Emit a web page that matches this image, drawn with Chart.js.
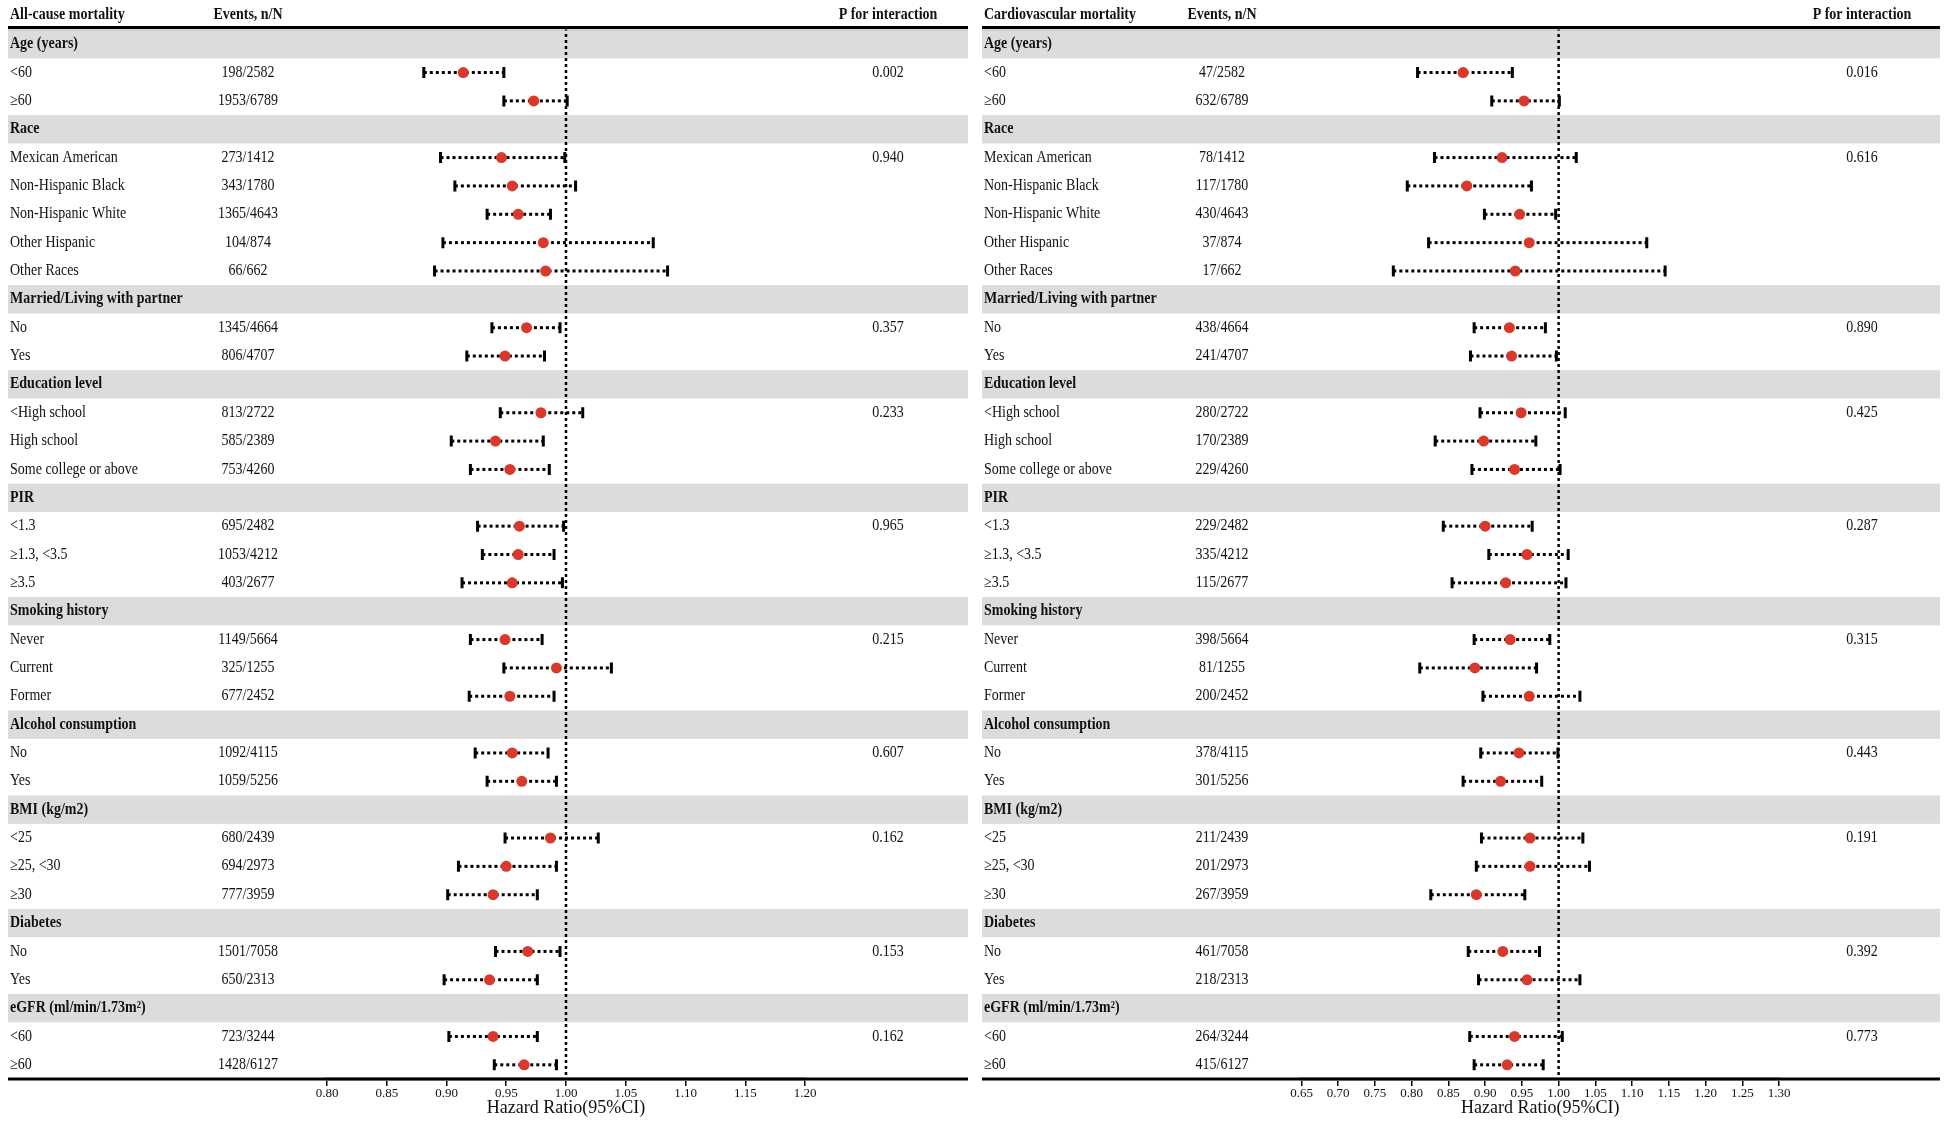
<!DOCTYPE html>
<html>
<head>
<meta charset="utf-8">
<script src="https://cdn.jsdelivr.net/npm/chart.js@4.4.1/dist/chart.umd.min.js"></script>
<style>
  body { margin: 0; background: #fff; }
  #wrap { position: relative; width: 1949px; height: 1127px; }
  canvas { position: absolute; top: 0; }
</style>
</head>
<body>
<div id="wrap">
  <canvas id="left" width="975" height="1127" style="left:0;width:975px;height:1127px"></canvas>
  <canvas id="right" width="974" height="1127" style="left:975px;width:974px;height:1127px"></canvas>
</div>
<script>
// rows, top to bottom
const rowLabels = ['Age (years)', '<60', '≥60', 'Race', 'Mexican American', 'Non-Hispanic Black',
  'Non-Hispanic White', 'Other Hispanic', 'Other Races', 'Married/Living with partner', 'No', 'Yes',
  'Education level', '<High school', 'High school', 'Some college or above', 'PIR', '<1.3',
  '≥1.3, <3.5', '≥3.5', 'Smoking history', 'Never', 'Current', 'Former', 'Alcohol consumption',
  'No', 'Yes', 'BMI (kg/m2)', '<25', '≥25, <30', '≥30', 'Diabetes', 'No', 'Yes',
  'eGFR (ml/min/1.73m²)', '<60', '≥60'];
const groupRows = [0, 3, 9, 12, 16, 20, 24, 27, 31, 34];

// all-cause mortality
const allEvents = ['', '198/2582', '1953/6789', '', '273/1412', '343/1780', '1365/4643', '104/874', '66/662',
  '', '1345/4664', '806/4707', '', '813/2722', '585/2389', '753/4260', '', '695/2482', '1053/4212', '403/2677',
  '', '1149/5664', '325/1255', '677/2452', '', '1092/4115', '1059/5256', '', '680/2439', '694/2973', '777/3959',
  '', '1501/7058', '650/2313', '', '723/3244', '1428/6127'];
const allP = ['', '0.002', '', '', '0.940', '', '', '', '', '', '0.357', '', '', '0.233', '', '', '', '0.965', '', '',
  '', '0.215', '', '', '', '0.607', '', '', '0.162', '', '', '', '0.153', '', '', '0.162', ''];
const allHR = [null, 0.914, 0.973, null, 0.946, 0.955, 0.960, 0.981, 0.983, null, 0.967, 0.949, null,
  0.979, 0.941, 0.953, null, 0.961, 0.960, 0.955, null, 0.949, 0.992, 0.953, null, 0.955, 0.963, null,
  0.987, 0.950, 0.939, null, 0.968, 0.936, null, 0.939, 0.965];
const allLo = [null, 0.881, 0.948, null, 0.895, 0.907, 0.934, 0.897, 0.890, null, 0.938, 0.917, null,
  0.945, 0.904, 0.920, null, 0.926, 0.930, 0.913, null, 0.920, 0.948, 0.919, null, 0.924, 0.934, null,
  0.949, 0.910, 0.901, null, 0.941, 0.898, null, 0.902, 0.940];
const allHi = [null, 0.948, 1.001, null, 0.999, 1.008, 0.987, 1.073, 1.085, null, 0.995, 0.982, null,
  1.014, 0.981, 0.986, null, 0.998, 0.990, 0.997, null, 0.980, 1.038, 0.990, null, 0.985, 0.992, null,
  1.027, 0.992, 0.976, null, 0.995, 0.976, null, 0.976, 0.992];

// cardiovascular mortality
const cvdEvents = ['', '47/2582', '632/6789', '', '78/1412', '117/1780', '430/4643', '37/874', '17/662',
  '', '438/4664', '241/4707', '', '280/2722', '170/2389', '229/4260', '', '229/2482', '335/4212', '115/2677',
  '', '398/5664', '81/1255', '200/2452', '', '378/4115', '301/5256', '', '211/2439', '201/2973', '267/3959',
  '', '461/7058', '218/2313', '', '264/3244', '415/6127'];
const cvdP = ['', '0.016', '', '', '0.616', '', '', '', '', '', '0.890', '', '', '0.425', '', '', '', '0.287', '', '',
  '', '0.315', '', '', '', '0.443', '', '', '0.191', '', '', '', '0.392', '', '', '0.773', ''];
const cvdHR = [null, 0.870, 0.953, null, 0.923, 0.875, 0.947, 0.960, 0.941, null, 0.933, 0.936, null,
  0.949, 0.898, 0.940, null, 0.900, 0.957, 0.928, null, 0.934, 0.886, 0.960, null, 0.946, 0.921, null,
  0.961, 0.961, 0.888, null, 0.924, 0.957, null, 0.940, 0.930];
const cvdLo = [null, 0.808, 0.909, null, 0.831, 0.794, 0.899, 0.823, 0.775, null, 0.885, 0.880, null,
  0.893, 0.832, 0.882, null, 0.843, 0.905, 0.855, null, 0.885, 0.811, 0.897, null, 0.894, 0.870, null,
  0.895, 0.888, 0.826, null, 0.877, 0.891, null, 0.879, 0.885];
const cvdHi = [null, 0.937, 1.001, null, 1.024, 0.963, 0.996, 1.120, 1.145, null, 0.982, 0.997, null,
  1.009, 0.969, 1.002, null, 0.964, 1.013, 1.010, null, 0.988, 0.970, 1.029, null, 0.999, 0.977, null,
  1.033, 1.042, 0.954, null, 0.974, 1.029, null, 1.005, 0.979];

const FONT = '"Liberation Serif", "Times New Roman", serif';

// text is a bit taller than wide in the original, stretch it a little
function text(ctx, s, x, y, align, bold, size) {
  ctx.save();
  ctx.font = (bold ? 'bold ' : '') + size + 'px ' + FONT;
  ctx.textAlign = align;
  ctx.textBaseline = 'middle';
  ctx.fillStyle = '#111';
  ctx.translate(x, y);
  ctx.scale(1, 1.12);
  ctx.fillText(s, 0, 0);
  ctx.restore();
}

const forest = {
  id: 'forest',
  beforeDatasetsDraw(chart, args, o) {
    const ctx = chart.ctx, xs = chart.scales.x, ys = chart.scales.y, area = chart.chartArea;
    const rowH = ys.getPixelForValue(1) - ys.getPixelForValue(0);
    ctx.save();
    ctx.fillStyle = '#dddcdc';
    groupRows.forEach(i => {
      const yc = ys.getPixelForValue(i);
      ctx.fillRect(o.x0, yc - rowH / 2, o.x1 - o.x0, rowH);
    });
    // reference line at HR = 1
    const x1 = xs.getPixelForValue(1);
    ctx.strokeStyle = '#000';
    ctx.lineWidth = 2.5;
    ctx.setLineDash([3, 3]);
    ctx.beginPath();
    ctx.moveTo(x1, area.top - 2);
    ctx.lineTo(x1, area.bottom);
    ctx.stroke();
    // confidence intervals
    o.lo.forEach((lo, i) => {
      if (lo == null) return;
      const yc = ys.getPixelForValue(i);
      const a = xs.getPixelForValue(lo), b = xs.getPixelForValue(o.hi[i]);
      ctx.setLineDash([3, 3]);
      ctx.lineWidth = 3;
      ctx.beginPath();
      ctx.moveTo(a, yc);
      ctx.lineTo(b, yc);
      ctx.stroke();
      ctx.setLineDash([]);
      ctx.beginPath();
      ctx.moveTo(a, yc - 5.5);
      ctx.lineTo(a, yc + 5.5);
      ctx.moveTo(b, yc - 5.5);
      ctx.lineTo(b, yc + 5.5);
      ctx.stroke();
    });
    ctx.restore();
  },
  afterDraw(chart, args, o) {
    const ctx = chart.ctx, ys = chart.scales.y, area = chart.chartArea;
    ctx.save();
    // header
    text(ctx, o.title, o.x0 + 2, 14.5, 'left', true, 14);
    text(ctx, 'Events, n/N', o.x0 + 240, 14.5, 'center', true, 14);
    text(ctx, 'P for interaction', o.x0 + 880, 14.5, 'center', true, 14);
    rowLabels.forEach((lab, i) => {
      const yc = ys.getPixelForValue(i);
      const grp = groupRows.includes(i);
      text(ctx, lab, o.x0 + 2, yc, 'left', grp, 14);
      if (o.events[i]) text(ctx, o.events[i], o.x0 + 240, yc, 'center', false, 14);
      if (o.p[i]) text(ctx, o.p[i], o.x0 + 880, yc, 'center', false, 14);
    });
    // rules
    ctx.strokeStyle = '#000';
    ctx.lineWidth = 3;
    ctx.beginPath();
    ctx.moveTo(o.x0, area.top - 2.5);
    ctx.lineTo(o.x1, area.top - 2.5);
    ctx.moveTo(o.x0, area.bottom);
    ctx.lineTo(o.x1, area.bottom);
    ctx.stroke();
    ctx.strokeStyle = '#bbb';
    ctx.lineWidth = 1;
    ctx.beginPath();
    ctx.moveTo(o.x0, area.top);
    ctx.lineTo(o.x1, area.top);
    ctx.stroke();
    ctx.restore();
  }
};

function makeChart(id, cfg) {
  const pts = [];
  cfg.hr.forEach((v, i) => { if (v != null) pts.push({ x: v, y: i }); });
  return new Chart(document.getElementById(id), {
    type: 'scatter',
    data: {
      datasets: [{
        data: pts,
        pointRadius: 5.5,
        pointHoverRadius: 5.5,
        backgroundColor: '#d8392b',
        borderWidth: 0
      }]
    },
    options: {
      responsive: false,
      animation: false,
      devicePixelRatio: 1,
      layout: { padding: { left: cfg.padL, right: cfg.padR, top: 30, bottom: 0 } },
      scales: {
        x: {
          type: 'linear',
          min: cfg.min,
          max: cfg.max,
          afterFit: (s) => { s.height = 48; },
          ticks: {
            stepSize: 0.05,
            padding: 0,
            color: '#111',
            font: { family: FONT, size: 13 },
            callback: (v) => Number(v).toFixed(2)
          },
          grid: { drawOnChartArea: false, drawTicks: true, tickLength: 7, color: '#000', lineWidth: 1.5 },
          border: { display: true, color: '#c4c4c4', width: 4 },
          title: {
            display: true,
            text: 'Hazard Ratio(95%CI)',
            color: '#111',
            font: { family: FONT, size: 18 },
            padding: { top: 0, bottom: 8 }
          }
        },
        y: { type: 'linear', min: -0.5, max: 36.5, reverse: true, display: false }
      },
      plugins: {
        legend: { display: false },
        tooltip: { enabled: false },
        forest: {
          title: cfg.title, x0: cfg.x0, x1: cfg.x1,
          events: cfg.events, p: cfg.p, lo: cfg.lo, hi: cfg.hi
        }
      }
    },
    plugins: [forest]
  });
}

makeChart('left', {
  title: 'All-cause mortality', x0: 8, x1: 968, padL: 327, padR: 170, min: 0.8, max: 1.2,
  events: allEvents, p: allP, hr: allHR, lo: allLo, hi: allHi
});
makeChart('right', {
  title: 'Cardiovascular mortality', x0: 7, x1: 965, padL: 326.5, padR: 170, min: 0.65, max: 1.3,
  events: cvdEvents, p: cvdP, hr: cvdHR, lo: cvdLo, hi: cvdHi
});
</script>
</body>
</html>
